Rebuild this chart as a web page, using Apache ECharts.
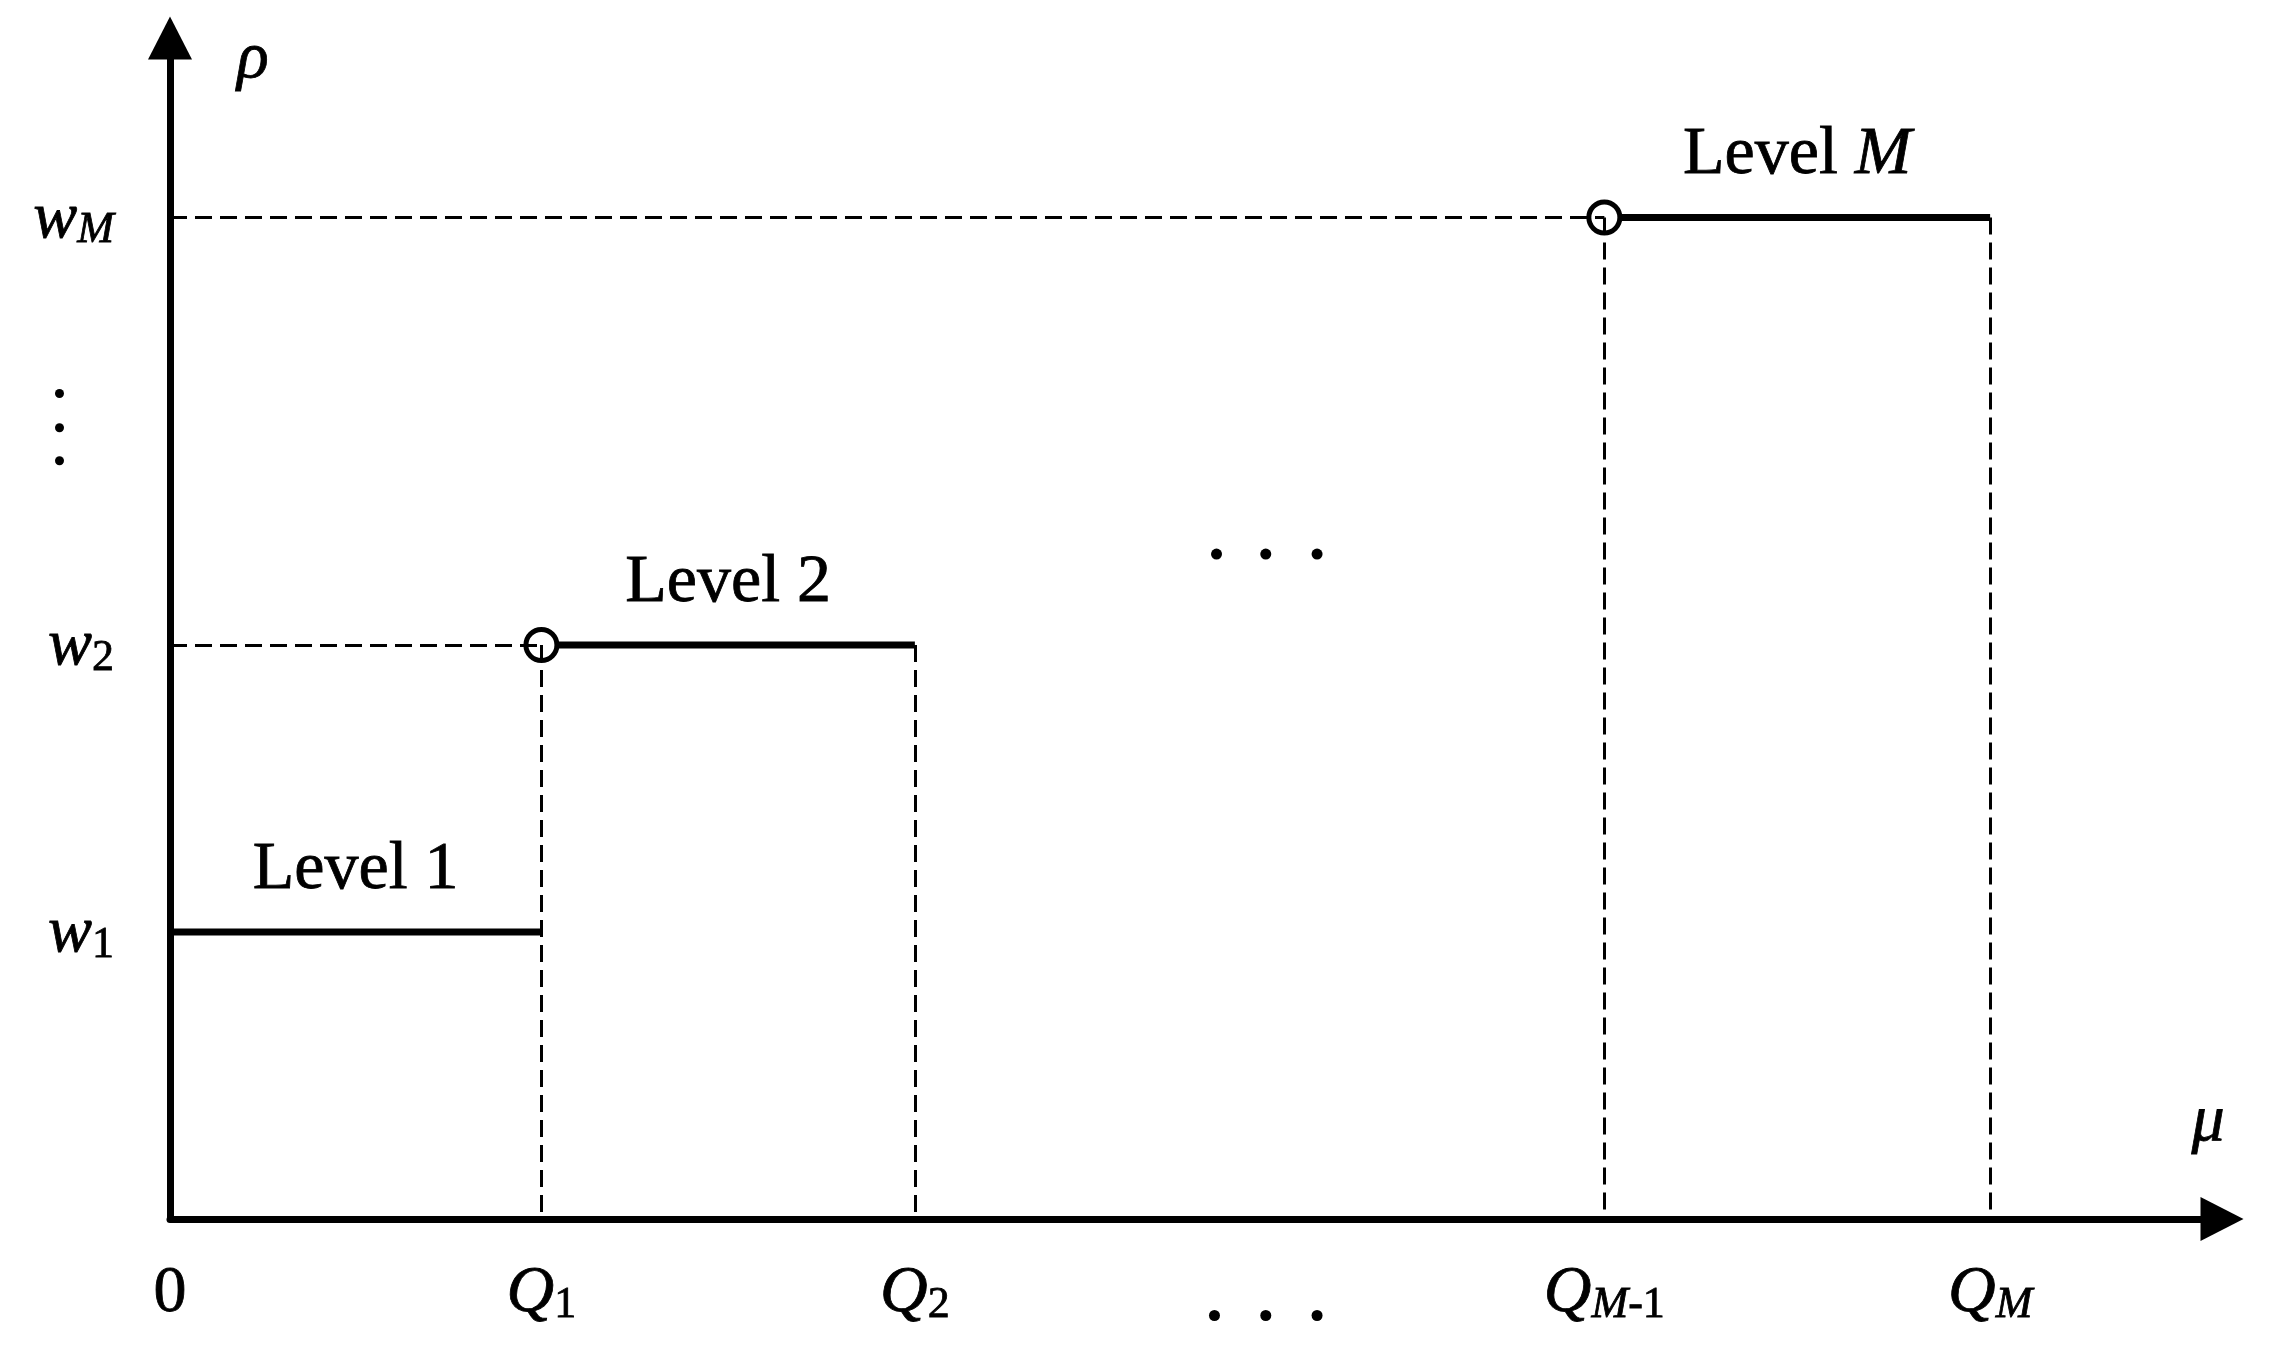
<!DOCTYPE html>
<html>
<head>
<meta charset="utf-8">
<title>Levels</title>
<script src="https://cdn.jsdelivr.net/npm/echarts@6/dist/echarts.min.js"></script>
<style>
html,body{margin:0;padding:0;background:#fff;}
#chart{width:2284px;height:1367px;}
</style>
</head>
<body>
<div id="chart"></div>
<script>
// thresholds on the mu axis: Q1, Q2, Q_{M-1}, Q_M
var qValues = [18.1, 36.3, 69.9, 88.7];
var qLabels = ['{q|Q}{sub|1}', '{q|Q}{sub|2}', '{q|Q}{subi|M}{sub|-1}', '{q|Q}{subi|M}'];
// weights on the rho axis: w1, w2, w_M
var wValues = [24.3, 48.6, 84.8];
var wLabels = ['{w|w}{wsub|1}', '{w|w}{wsub|2}', '{w|w}{wsubi|M}'];
// levels: where each step starts and ends, and its weight
var levelNames = ['Level 1', 'Level 2', 'Level {it|M}'];
var levelStart = [0, 18.1, 69.9];
var levelEnd = [18.1, 36.3, 88.7];
var levelWeight = [24.3, 48.6, 84.8];
var levelOpen = [false, true, true]; // open circle at the left end
// "..." dots
var midDotsX = [51.0, 53.4, 55.9];
var midDotsY = 56.3;
var axisDotsX = [50.9, 53.4, 55.9];
var axisDotsY = [69.9, 67.0, 64.2];

var FONT = 'Liberation Serif';
var BLACK = '#000';

function near(a, b) {
    return Math.abs(a - b) < 0.01;
}

function findIdx(list, v) {
    for (var i = 0; i < list.length; i++) {
        if (near(list[i], v)) return i;
    }
    return -1;
}

// text style used by every rich token
function txt(size, italic, lh) {
    return {
        fontFamily: FONT, fontSize: size, fontStyle: italic ? 'italic' : 'normal',
        lineHeight: lh, verticalAlign: 'bottom', color: BLACK,
        textBorderColor: BLACK, textBorderWidth: 0.8
    };
}

var xLabelValues = [0].concat(qValues, axisDotsX);
var yLabelValues = wValues.concat(axisDotsY);

// dashed guide lines from the axes to every step
var guideLines = [];
for (var i = 0; i < levelStart.length; i++) {
    var w = levelWeight[i];
    if (levelStart[i] > 0) {
        guideLines.push([{coord: [0, w]}, {coord: [levelStart[i], w]}]);
        guideLines.push([{coord: [levelStart[i], w]}, {coord: [levelStart[i], 0]}]);
    }
    // skip the drop line when the next level already draws one there
    if (findIdx(levelStart, levelEnd[i]) < 0) {
        guideLines.push([{coord: [levelEnd[i], w]}, {coord: [levelEnd[i], 0]}]);
    }
}

var series = [];
series.push({
    name: 'guides',
    type: 'line',
    data: [],
    z: 1,
    silent: true,
    markLine: {
        silent: true,
        symbol: ['none', 'none'],
        label: {show: false},
        lineStyle: {color: BLACK, width: 3, type: [17, 8]},
        emphasis: {disabled: true},
        data: guideLines
    }
});

for (var j = 0; j < levelStart.length; j++) {
    series.push({
        name: levelNames[j],
        type: 'line',
        z: 3,
        silent: true,
        symbolSize: 31,
        itemStyle: {color: '#fff', borderColor: BLACK, borderWidth: 5},
        lineStyle: {color: BLACK, width: 7},
        data: [
            {value: [levelStart[j], levelWeight[j]], symbol: levelOpen[j] ? 'circle' : 'none'},
            {value: [levelEnd[j], levelWeight[j]], symbol: 'none'}
        ]
    });
}

// level names above the middle of each step
series.push({
    name: 'levelTags',
    type: 'scatter',
    silent: true,
    symbolSize: 0,
    itemStyle: {opacity: 1},
    data: levelStart.map(function (s, k) {
        return [(s + levelEnd[k]) / 2, levelWeight[k]];
    }),
    label: {
        show: true,
        position: 'top',
        distance: 24,
        color: BLACK,
        fontFamily: FONT,
        fontSize: 68,
        lineHeight: 76,
        textBorderColor: BLACK,
        textBorderWidth: 0.8,
        formatter: function (p) {
            return levelNames[p.dataIndex];
        },
        rich: {
            it: {
                fontFamily: FONT, fontSize: 68, fontStyle: 'italic', lineHeight: 76,
                color: BLACK, textBorderColor: BLACK, textBorderWidth: 0.8
            }
        }
    }
});

series.push({
    name: 'dots',
    type: 'scatter',
    silent: true,
    symbolSize: 11,
    itemStyle: {color: BLACK, opacity: 1},
    data: midDotsX.map(function (x) { return [x, midDotsY]; })
});

var myChart = echarts.init(document.getElementById('chart'));
var option = {
    backgroundColor: '#fff',
    animation: false,
    grid: {left: 170, right: 62, top: 38, bottom: 148, containLabel: false, outerBoundsMode: 'none'},
    xAxis: {
        type: 'value',
        min: 0,
        max: 100,
        name: 'μ',
        nameLocation: 'end',
        nameGap: -14,
        nameMoveOverlap: false,
        nameTextStyle: {
            fontFamily: FONT, fontStyle: 'italic', fontSize: 66, color: BLACK,
            textBorderColor: BLACK, textBorderWidth: 0.8,
            align: 'center', verticalAlign: 'bottom', padding: [0, 0, 63, 0]
        },
        axisLine: {
            show: true,
            onZero: false,
            symbol: ['none', 'triangle'],
            symbolSize: [44, 43],
            lineStyle: {color: BLACK, width: 7}
        },
        axisTick: {show: false},
        splitLine: {show: false},
        axisLabel: {
            customValues: xLabelValues,
            margin: 38,
            color: BLACK,
            formatter: function (v) {
                if (near(v, 0)) return '{n|0}';
                var i = findIdx(qValues, v);
                if (i >= 0) return qLabels[i];
                return '{vpad| }\n{dot| }';
            },
            rich: {
                n: txt(66, false, 70),
                q: txt(66, true, 70),
                sub: txt(44, false, 55),
                subi: txt(44, true, 55),
                vpad: {fontSize: 1, lineHeight: 53, height: 53},
                dot: {fontSize: 1, width: 11, height: 11, lineHeight: 11, backgroundColor: BLACK, borderRadius: 6}
            }
        }
    },
    yAxis: {
        type: 'value',
        min: 0,
        max: 100,
        name: 'ρ',
        nameLocation: 'end',
        nameGap: 11,
        nameMoveOverlap: false,
        nameTextStyle: {
            fontFamily: FONT, fontStyle: 'italic', fontSize: 66, color: BLACK,
            textBorderColor: BLACK, textBorderWidth: 0.8,
            align: 'left', verticalAlign: 'top', padding: [0, 0, 0, 67]
        },
        axisLine: {
            show: true,
            onZero: false,
            symbol: ['none', 'triangle'],
            symbolSize: [44, 43],
            lineStyle: {color: BLACK, width: 7}
        },
        axisTick: {show: false},
        splitLine: {show: false},
        axisLabel: {
            customValues: yLabelValues,
            margin: 56,
            color: BLACK,
            formatter: function (v) {
                var i = findIdx(wValues, v);
                if (i >= 0) return wLabels[i];
                return '{dot| }{gap| }';
            },
            rich: {
                w: txt(66, true, 70),
                wsub: txt(44, false, 35),
                wsubi: txt(44, true, 55),
                dot: {fontSize: 1, width: 9, height: 9, lineHeight: 9, backgroundColor: BLACK, borderRadius: 5},
                gap: {fontSize: 1, width: 50}
            }
        }
    },
    series: series
};
myChart.setOption(option);
</script>
</body>
</html>
